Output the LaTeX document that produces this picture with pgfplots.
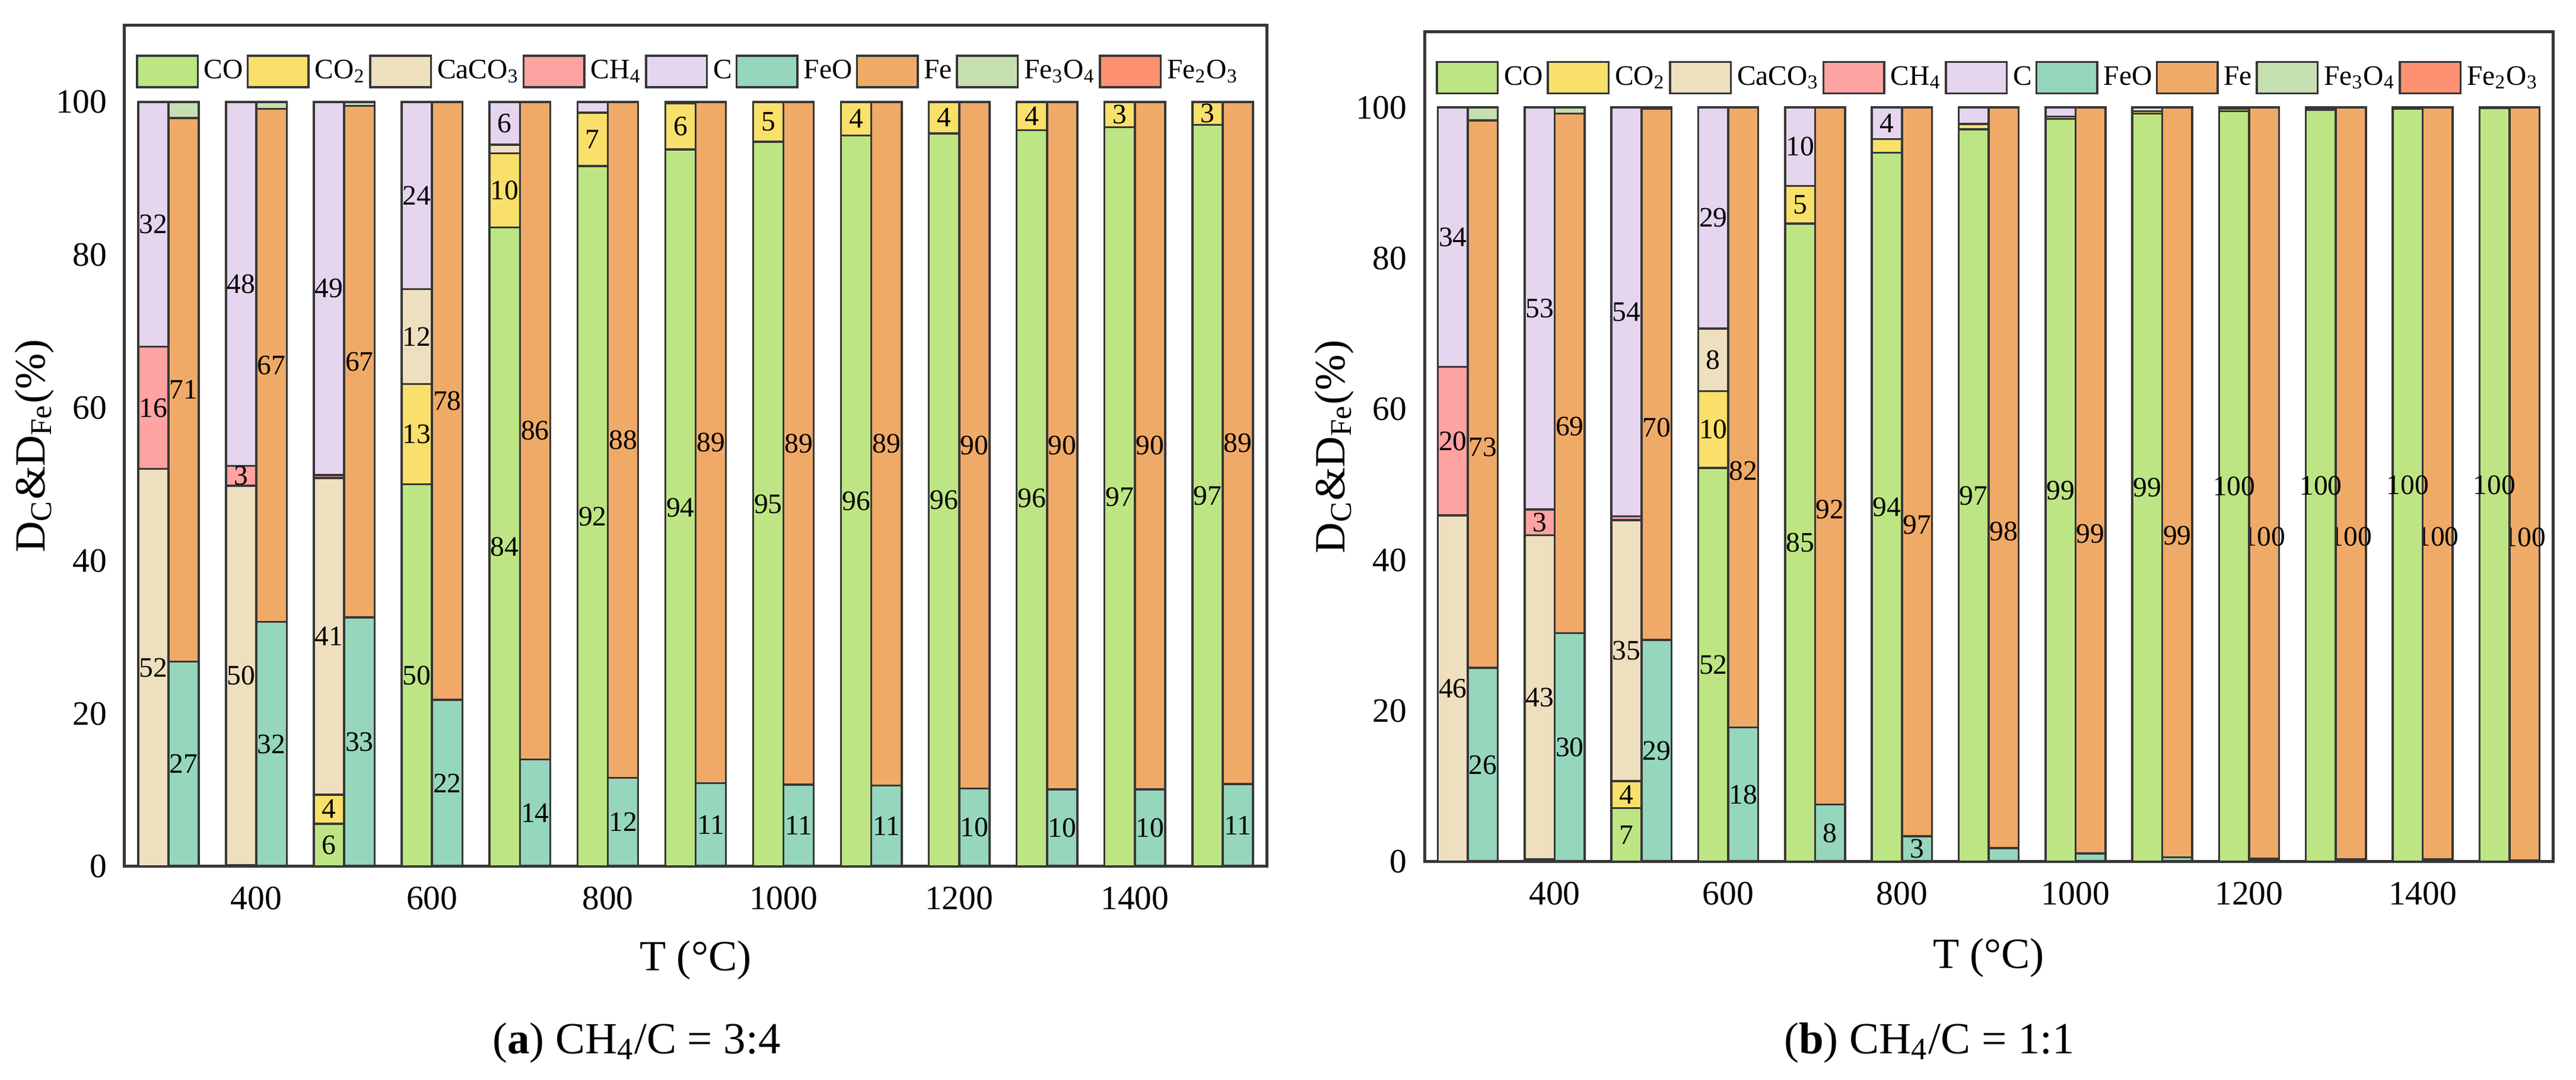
\documentclass[border=0pt]{standalone}
\usepackage{pgfplots}
\pgfplotsset{compat=1.18}
\usepackage{pgfplotstable}
\usepackage{fontspec}
\setmainfont{Liberation Serif}

\definecolor{cCO}{RGB}{190,229,132}
\definecolor{cCOt}{RGB}{249,224,106}
\definecolor{cCaCO}{RGB}{238,223,191}
\definecolor{cCH}{RGB}{255,162,162}
\definecolor{cC}{RGB}{230,213,238}
\definecolor{cFeO}{RGB}{149,214,188}
\definecolor{cFe}{RGB}{240,170,104}
\definecolor{cFeT}{RGB}{198,223,176}
\definecolor{cFeD}{RGB}{253,145,113}
\definecolor{edge}{RGB}{55,55,55}

% panel (a) CH4/C = 3:4
\pgfplotstableread{
T CO CO2 CaCO3 CH4 C FeO Fe Fe3O4 Fe2O3 lCO lCO2 lCaCO3 lCH4 lC lFeO lFe ln
300 0 0 52 16 32 26.8 71.1 2.1 0 {} {} 52 16 32 27 71 {}
400 0.2 0 49.6 2.6 47.6 32.0 67.1 0.9 0 {} {} 50 3 48 32 67 {}
500 5.6 3.8 41.4 0.4 48.8 32.6 66.9 0.5 0 6 4 41 {} 49 33 67 {}
600 50 13.1 12.4 0 24.5 21.8 78.2 0 0 50 13 12 {} 24 22 78 {}
700 83.6 9.7 1.1 0 5.6 14.0 86.0 0 0 84 10 {} {} 6 14 86 {}
800 91.6 7.0 0 0 1.4 11.6 88.4 0 0 92 7 {} {} {} 12 88 {}
900 93.8 6.0 0 0 0.2 10.9 89.1 0 0 94 6 {} {} {} 11 89 {}
1000 94.8 5.2 0 0 0 10.7 89.3 0 0 95 5 {} {} {} 11 89 {}
1100 95.6 4.4 0 0 0 10.6 89.4 0 0 96 4 {} {} {} 11 89 {}
1200 95.9 4.1 0 0 0 10.2 89.8 0 0 96 4 {} {} {} 10 90 {}
1300 96.3 3.7 0 0 0 10.1 89.9 0 0 96 4 {} {} {} 10 90 {}
1400 96.7 3.3 0 0 0 10.1 89.9 0 0 97 3 {} {} {} 10 90 {}
1500 97.0 3.0 0 0 0 10.8 89.2 0 0 97 3 {} {} {} 11 89 {}
}\dataA

% panel (b) CH4/C = 1:1
\pgfplotstableread{
T CO CO2 CaCO3 CH4 C FeO Fe Fe3O4 Fe2O3 lCO lCO2 lCaCO3 lCH4 lC lFeO lFe ln
300 0 0 45.9 19.7 34.4 25.7 72.6 1.7 0 {} {} 46 20 34 26 73 {}
400 0.3 0 43.0 3.4 53.3 30.3 68.9 0.8 0 {} {} 43 3 53 30 69 {}
500 7.1 3.6 34.6 0.5 54.2 29.4 70.4 0.2 0 7 4 35 {} 54 29 70 {}
600 52.2 10.2 8.3 0 29.3 17.8 82.2 0 0 52 10 8 {} 29 18 82 {}
700 84.6 5.0 0 0 10.4 7.6 92.4 0 0 85 5 {} {} 10 8 92 {}
800 94.0 1.8 0 0 4.2 3.4 96.6 0 0 94 {} {} {} 4 3 97 {}
900 97.1 0.7 0 0 2.2 1.8 98.2 0 0 97 {} {} {} {} {} 98 {}
1000 98.5 0.3 0 0 1.2 1.1 98.9 0 0 99 {} {} {} {} {} 99 {}
1100 99.2 0.3 0 0 0.5 0.6 99.4 0 0 99 {} {} {} {} {} 99 {}
1200 99.5 0.3 0 0 0.2 0.4 99.6 0 0 100 {} {} {} {} {} 100 {}
1300 99.7 0.2 0 0 0.1 0.3 99.7 0 0 100 {} {} {} {} {} 100 {}
1400 99.8 0.1 0 0 0.1 0.3 99.7 0 0 100 {} {} {} {} {} 100 {}
1500 99.9 0.1 0 0 0 0.2 99.8 0 0 100 {} {} {} {} {} 100 {}
}\dataB

\pgfplotsset{
  legbox/.style={legend image code/.code={\draw[##1,line width=0.7pt] (0pt,-5.3pt) rectangle (#1,5.3pt);}},
  legbox/.default=20.5pt,
  common/.style={
    scale only axis, xmin=250, xmax=1550, ymin=0, ymax=110,
    ybar stacked, bar width=34.5,
    xtick={400,600,...,1400}, ytick={0,20,...,100},
    major tick length=0pt,
    tick label style={font=\fontsize{11.5}{13}\selectfont},
    xticklabel style={yshift=-3.4pt},
    yticklabel style={xshift=-2.4pt},
    /pgf/number format/assume math mode=true,
    /pgf/number format/1000 sep={},
    axis line style={draw=edge, line width=1pt},
    every axis plot/.append style={draw=edge, line width=0.7pt},
    every axis plot post/.append style={legbox},
    nodes near coords,
    point meta=explicit symbolic,
    every node near coord/.append style={font=\fontsize{9.5}{11}\selectfont, text=black, anchor=center, inner sep=0pt},
    clip=false,
  },
  legs/.style={
    legend columns=9, legend cell align=left,
    legend style={draw=none, fill=none, inner sep=0pt, at={(axis description cs:0,1)}, anchor=north west,
      font=\fontsize{9.5}{11}\selectfont, nodes={inner sep=0pt},
      /tikz/every odd column/.append style={column sep=1.8pt},
      /tikz/every even column/.append style={column sep=1.2pt}},
  },
  labs/.style={
    xlabel={T (°C)}, ylabel={D\textsubscript{C}\&D\textsubscript{Fe}(\%)},
    xlabel style={font=\fontsize{14.5}{17}\selectfont, anchor=center},
    ylabel style={font=\fontsize{14.5}{17}\selectfont, anchor=center},
  },
}

\begin{document}
\begin{tikzpicture}
\useasboundingbox (0,0) rectangle (868.4pt,364.2pt);

% ---------- panel (a): iron distribution ----------
\begin{axis}[common, hide axis, at={(42pt,72pt)}, anchor=south west,
  width=385pt, height=283.6pt, bar shift=17.3]
\addplot[fill=cFeO] table[x=T,y=FeO,meta=lFeO]{\dataA};
\addplot[fill=cFe] table[x=T,y=Fe,meta=lFe]{\dataA};
\addplot[fill=cFeT] table[x=T,y=Fe3O4,meta=ln]{\dataA};
\addplot[fill=cFeD] table[x=T,y=Fe2O3,meta=ln]{\dataA};
\end{axis}
% ---------- panel (a): carbon distribution ----------
\begin{axis}[common, labs, legs, at={(42pt,72pt)}, anchor=south west,
  width=385pt, height=283.6pt, bar shift=-17.3,
  xlabel style={at={(axis description cs:0.5,-0.1114)}},
  ylabel style={at={(axis description cs:-0.079,0.5)}},
  legend style={xshift=3.6pt, yshift=-9.7pt}]
\addplot[fill=cCO] table[x=T,y=CO,meta=lCO]{\dataA};
\addlegendentry{CO}
\addplot[fill=cCOt] table[x=T,y=CO2,meta=lCO2]{\dataA};
\addlegendentry{CO\textsubscript{2}}
\addplot[fill=cCaCO] table[x=T,y=CaCO3,meta=lCaCO3]{\dataA};
\addlegendentry{CaCO\textsubscript{3}}
\addplot[fill=cCH] table[x=T,y=CH4,meta=lCH4]{\dataA};
\addlegendentry{CH\textsubscript{4}}
\addplot[fill=cC, legbox=17pt] table[x=T,y=C,meta=lC]{\dataA};
\addlegendentry{C}
\addlegendimage{fill=cFeO, draw=edge, legbox}
\addlegendentry{FeO}
\addlegendimage{fill=cFe, draw=edge, legbox}
\addlegendentry{Fe}
\addlegendimage{fill=cFeT, draw=edge, legbox}
\addlegendentry{Fe\textsubscript{3}O\textsubscript{4}}
\addlegendimage{fill=cFeD, draw=edge, legbox}
\addlegendentry{Fe\textsubscript{2}O\textsubscript{3}}
\end{axis}

% ---------- panel (b): iron distribution ----------
\begin{axis}[common, hide axis, at={(480.2pt,73.6pt)}, anchor=south west,
  width=380.4pt, height=279.8pt, bar shift=17.3]
\addplot[fill=cFeO] table[x=T,y=FeO,meta=lFeO]{\dataB};
\addplot[fill=cFe, every node near coord/.append style={yshift=-18pt}] table[x=T,y=Fe,meta=lFe]{\dataB};
\addplot[fill=cFeT] table[x=T,y=Fe3O4,meta=ln]{\dataB};
\addplot[fill=cFeD] table[x=T,y=Fe2O3,meta=ln]{\dataB};
\end{axis}
% ---------- panel (b): carbon distribution ----------
\begin{axis}[common, labs, legs, at={(480.2pt,73.6pt)}, anchor=south west,
  width=380.4pt, height=279.8pt, bar shift=-17.3,
  xlabel style={at={(axis description cs:0.5,-0.116)}},
  ylabel style={at={(axis description cs:-0.080,0.5)}},
  legend style={xshift=3.6pt, yshift=-9.6pt}]
\addplot[fill=cCO] table[x=T,y=CO,meta=lCO]{\dataB};
\addlegendentry{CO}
\addplot[fill=cCOt] table[x=T,y=CO2,meta=lCO2]{\dataB};
\addlegendentry{CO\textsubscript{2}}
\addplot[fill=cCaCO] table[x=T,y=CaCO3,meta=lCaCO3]{\dataB};
\addlegendentry{CaCO\textsubscript{3}}
\addplot[fill=cCH] table[x=T,y=CH4,meta=lCH4]{\dataB};
\addlegendentry{CH\textsubscript{4}}
\addplot[fill=cC, legbox=17pt] table[x=T,y=C,meta=lC]{\dataB};
\addlegendentry{C}
\addlegendimage{fill=cFeO, draw=edge, legbox}
\addlegendentry{FeO}
\addlegendimage{fill=cFe, draw=edge, legbox}
\addlegendentry{Fe}
\addlegendimage{fill=cFeT, draw=edge, legbox}
\addlegendentry{Fe\textsubscript{3}O\textsubscript{4}}
\addlegendimage{fill=cFeD, draw=edge, legbox}
\addlegendentry{Fe\textsubscript{2}O\textsubscript{3}}
\end{axis}

\node[font=\fontsize{15}{18}\selectfont] at (214.6pt,12.6pt) {(\textbf{a}) CH\textsubscript{4}/C = 3:4};
\node[font=\fontsize{15}{18}\selectfont] at (650.4pt,12.6pt) {(\textbf{b}) CH\textsubscript{4}/C = 1:1};
\end{tikzpicture}
\end{document}
